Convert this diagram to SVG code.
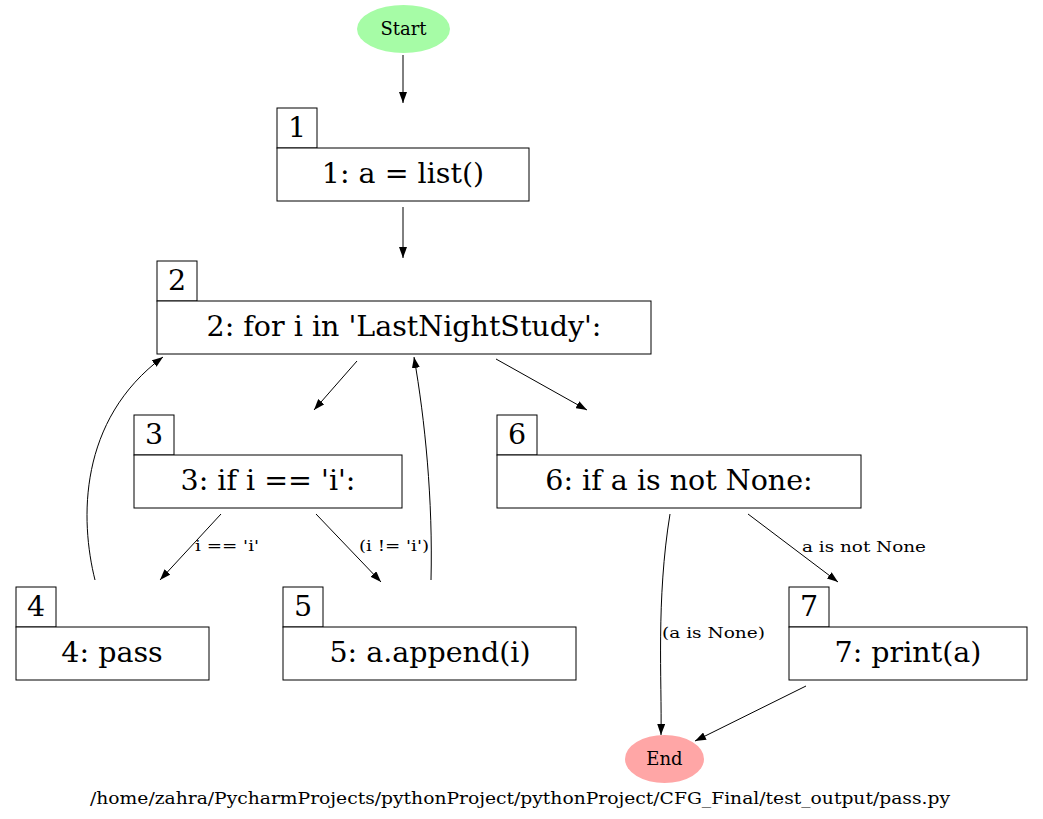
<svg xmlns="http://www.w3.org/2000/svg" width="1043" height="819" viewBox="0 0 1043 819">
<style>
.box{fill:#fff;stroke:#000;stroke-width:1}
.t{font-family:"DejaVu Serif",serif;font-size:28.5px;fill:#000}
.n{font-family:"DejaVu Serif",serif;font-size:28.5px;fill:#000}
.e{fill:none;stroke:#000;stroke-width:1}
.el{font-family:"DejaVu Serif",serif;font-size:14px;fill:#000}
.s{font-family:"DejaVu Serif",serif;font-size:18px;fill:#000}
.f{font-family:"DejaVu Serif",serif;font-size:16px;fill:#000}
</style>
<defs>
<marker id="ah" viewBox="0 0 11 8" refX="11" refY="4" markerWidth="11" markerHeight="8" markerUnits="userSpaceOnUse" orient="auto">
<path d="M0,0 L11,4 L0,8 Z" fill="#000"/>
</marker>
</defs>
<rect width="1043" height="819" fill="#fff"/>
<g id="start">
<ellipse cx="403.5" cy="29" rx="46.5" ry="24" fill="#a6fca6"/>
<text class="s" x="403.5" y="35" text-anchor="middle">Start</text>
</g>
<g id="node1">
<rect class="box" x="277" y="108" width="40" height="40"/>
<text class="n" x="297" y="137" text-anchor="middle">1</text>
<rect class="box" x="277" y="148" width="252" height="53"/>
<text class="t" x="403" y="183" text-anchor="middle">1: a = list()</text>
</g>
<g id="node2">
<rect class="box" x="157" y="261" width="40" height="40"/>
<text class="n" x="177" y="290" text-anchor="middle">2</text>
<rect class="box" x="157" y="301" width="494" height="53"/>
<text class="t" x="404" y="336" text-anchor="middle">2: for i in 'LastNightStudy':</text>
</g>
<g id="node3">
<rect class="box" x="134" y="415" width="40" height="40"/>
<text class="n" x="154" y="444" text-anchor="middle">3</text>
<rect class="box" x="134" y="455" width="268" height="53"/>
<text class="t" x="268" y="490" text-anchor="middle">3: if i == 'i':</text>
</g>
<g id="node4">
<rect class="box" x="16" y="587" width="40" height="40"/>
<text class="n" x="36" y="616" text-anchor="middle">4</text>
<rect class="box" x="16" y="627" width="193" height="53"/>
<text class="t" x="112" y="662" text-anchor="middle">4: pass</text>
</g>
<g id="node5">
<rect class="box" x="283" y="587" width="40" height="40"/>
<text class="n" x="303" y="616" text-anchor="middle">5</text>
<rect class="box" x="283" y="627" width="293" height="53"/>
<text class="t" x="430" y="662" text-anchor="middle">5: a.append(i)</text>
</g>
<g id="node6">
<rect class="box" x="497" y="415" width="40" height="40"/>
<text class="n" x="517" y="444" text-anchor="middle">6</text>
<rect class="box" x="497" y="455" width="364" height="53"/>
<text class="t" x="679" y="490" text-anchor="middle">6: if a is not None:</text>
</g>
<g id="node7">
<rect class="box" x="789" y="587" width="40" height="40"/>
<text class="n" x="809" y="616" text-anchor="middle">7</text>
<rect class="box" x="789" y="627" width="238" height="53"/>
<text class="t" x="908" y="662" text-anchor="middle">7: print(a)</text>
</g>
<g id="end">
<ellipse cx="664.5" cy="759" rx="39.5" ry="24" fill="#ffa6a6"/>
<text class="s" x="664.5" y="765" text-anchor="middle">End</text>
</g>
<g id="edges">
<path class="e" d="M403,55 L403,103" marker-end="url(#ah)"/>
<path class="e" d="M403,207 L403,258" marker-end="url(#ah)"/>
<path class="e" d="M357,361 L314,410" marker-end="url(#ah)"/>
<path class="e" d="M496,359 L587,410" marker-end="url(#ah)"/>
<path class="e" d="M221,514 L160,580" marker-end="url(#ah)"/>
<text class="el" x="195" y="551" textLength="64" lengthAdjust="spacingAndGlyphs">i == 'i'</text>
<path class="e" d="M316,514 L381,582" marker-end="url(#ah)"/>
<text class="el" x="359" y="551" textLength="70" lengthAdjust="spacingAndGlyphs">(i != 'i')</text>
<path class="e" d="M95,580 C80,520 78,420 163,357" marker-end="url(#ah)"/>
<path class="e" d="M431,580 C433,500 425,420 414,357" marker-end="url(#ah)"/>
<path class="e" d="M670,514 C656,600 662,680 661,735" marker-end="url(#ah)"/>
<text class="el" x="662" y="638" textLength="103" lengthAdjust="spacingAndGlyphs">(a is None)</text>
<path class="e" d="M748,514 L838,582" marker-end="url(#ah)"/>
<text class="el" x="802" y="552" textLength="124" lengthAdjust="spacingAndGlyphs">a is not None</text>
<path class="e" d="M806,686 L695,741" marker-end="url(#ah)"/>
</g>
<text class="f" x="90" y="804" textLength="860" lengthAdjust="spacingAndGlyphs">/home/zahra/PycharmProjects/pythonProject/pythonProject/CFG_Final/test_output/pass.py</text>
</svg>
